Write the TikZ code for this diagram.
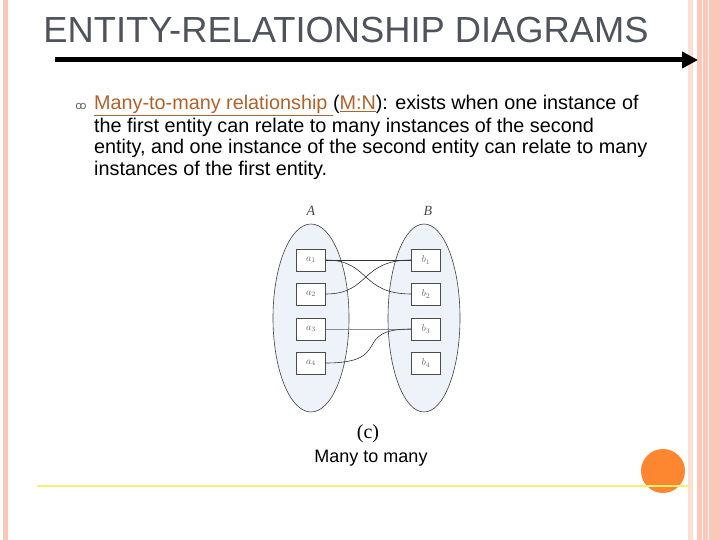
\documentclass[tikz,border=0pt]{standalone}
\usepackage{fontspec}
\usetikzlibrary{arrows.meta}
\setmainfont{Liberation Sans}
\newfontfamily\dejavu{DejaVu Sans}
\newfontfamily\serifx{Liberation Serif}
\definecolor{titlegray}{HTML}{4F545C}
\definecolor{linkbrown}{HTML}{B0622A}
\definecolor{pinkstrip}{HTML}{F9C8B8}
\definecolor{ellfill}{HTML}{EEF3FA}
\definecolor{orangec}{HTML}{FC8730}
\definecolor{yellowl}{HTML}{F5F070}
\begin{document}
\begin{tikzpicture}[x=1pt,y=-1pt,
  ent/.style={draw=black!75,fill=ellfill,line width=0.6pt},
  elem/.style={draw=black!70,fill=white,minimum width=29pt,minimum height=22pt,inner sep=0pt,font=\serifx\fontsize{10}{10}\selectfont\itshape,text=black!60},
  lnk/.style={draw=black!80,line width=0.6pt},
  body/.style={anchor=base west,inner sep=0pt,font=\fontsize{19.8}{20}\selectfont}]
\useasboundingbox (0,0) rectangle (720,540);
\fill[white] (0,0) rectangle (720,540);
\fill[pinkstrip] (3,0) rectangle (8,540);
\fill[pinkstrip!60] (688,0) rectangle (693,540);
\fill[pinkstrip] (697,0) rectangle (720,540);
\draw[pinkstrip!120!red!20,line width=0.6pt] (702,0) -- (702,540) (708,0) -- (708,540);
\node[anchor=base,inner sep=0pt,text=titlegray,font=\fontsize{36.3}{38}\selectfont] (title) at (346,43) {ENTITY-RELATIONSHIP DIAGRAMS};
\coordinate (ls) at (55,60);
\coordinate (le) at (698,60);
\draw[line width=5pt,-{Triangle[length=16pt,width=16pt]}] (ls) -- (le);
\node[anchor=base,inner sep=0pt,text=black!60,font=\dejavu\fontsize{11}{11}\selectfont] (bul) at (81,110) {ꝏ};
\node[body] (l1) at (94,110) {\textcolor{linkbrown}{\underline{Many-to-many relationship }}(\textcolor{linkbrown}{\underline{M:N}}): exists when one instance of};
\node[body] (l2) at (94,133) {the first entity can relate to many instances of the second};
\node[body] (l3) at (94,154) {entity, and one instance of the second entity can relate to many};
\node[body] (l4) at (94,176) {instances of the first entity.};
\node[font=\serifx\fontsize{14}{14}\selectfont\itshape,text=black!70] (lA) at (311,211) {A};
\node[font=\serifx\fontsize{14}{14}\selectfont\itshape,text=black!70] (lB) at (428,211) {B};
\path[ent] (311,318) ellipse [x radius=38,y radius=94];
\path[ent] (424,318) ellipse [x radius=36,y radius=94];
\node[elem] (a1) at (311,260) {$a_1$};
\node[elem] (a2) at (311,294) {$a_2$};
\node[elem] (a3) at (311,329) {$a_3$};
\node[elem] (a4) at (311,363) {$a_4$};
\node[elem] (b1) at (426,260) {$b_1$};
\node[elem] (b2) at (426,294) {$b_2$};
\node[elem] (b3) at (426,329) {$b_3$};
\node[elem] (b4) at (426,363) {$b_4$};
\draw[lnk] (a1.east) -- (b1.west);
\draw[lnk] (a1.east) .. controls (370,260) and (360,294) .. (b2.west);
\draw[lnk] (a2.east) .. controls (370,294) and (360,260) .. (b1.west);
\draw[draw=black!45,line width=0.5pt] (a3.east) -- (b3.west);
\draw[lnk] (a4.east) .. controls (395,363) and (350,329) .. (b3.west);
\node[anchor=base,inner sep=0pt,font=\serifx\fontsize{20}{20}\selectfont] (cap) at (368,438) {(c)};
\node[anchor=base,inner sep=0pt,font=\fontsize{18}{18}\selectfont] (mm) at (371,462) {Many to many};
\fill[orangec] (663,471) circle (22);
\coordinate (ys) at (37,486);
\coordinate (ye) at (690,486);
\draw[yellowl,line width=2pt] (ys) -- (ye);
\end{tikzpicture}
\end{document}
